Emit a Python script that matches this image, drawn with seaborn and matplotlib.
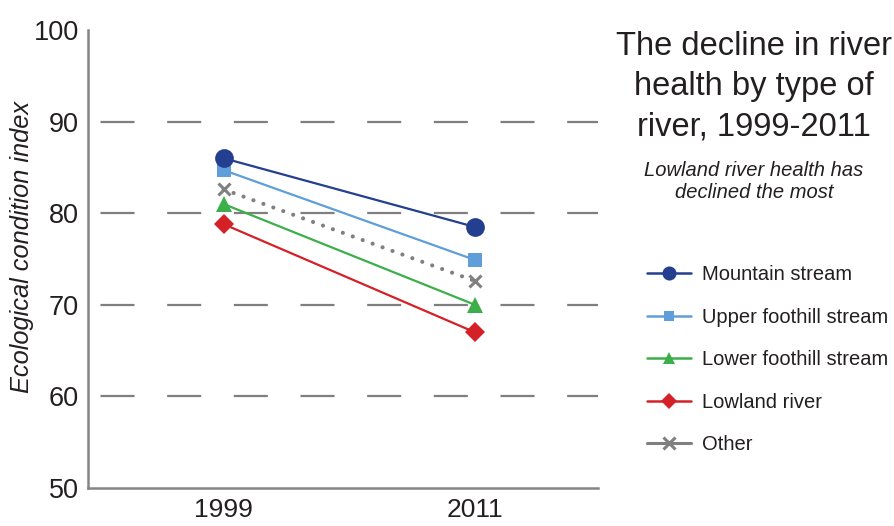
import matplotlib
matplotlib.use("Agg")
import matplotlib.pyplot as plt
from matplotlib.lines import Line2D
import seaborn as sns

# Ecological condition index by river type
years = ["1999", "2011"]
mountain_stream = [86.0, 78.5]
upper_foothill_stream = [84.7, 74.9]
lower_foothill_stream = [81.0, 70.0]
lowland_river = [78.8, 67.0]
other = [82.6, 72.6]

series_names = ["Mountain stream", "Upper foothill stream", "Lower foothill stream",
                "Lowland river", "Other"]
y_ticks = [50, 60, 70, 80, 90, 100]

sns.set_theme(style="white")
plt.rcParams["font.family"] = ["Liberation Sans", "DejaVu Sans"]
plt.rcParams["lines.scale_dashes"] = False

text_color = "#231f20"
axis_color = "#858585"

fig = plt.figure(figsize=(8.94, 5.26), dpi=100)
ax = fig.add_axes([88 / 894, 1 - 488 / 526, 510 / 894, 458 / 526])

styles = {
    "Mountain stream": dict(color="#243f8f", marker="o", markersize=13.5),
    "Upper foothill stream": dict(color="#5f9ed8", marker="s", markersize=10.5),
    "Lower foothill stream": dict(color="#3daf4a", marker="^", markersize=12),
    "Lowland river": dict(color="#d42128", marker="D", markersize=10.5),
    "Other": dict(color="#808080", marker="x", markersize=9),
}
values = {
    "Mountain stream": mountain_stream,
    "Upper foothill stream": upper_foothill_stream,
    "Lower foothill stream": lower_foothill_stream,
    "Lowland river": lowland_river,
    "Other": other,
}

# dashed horizontal guides
for v in y_ticks[1:-1]:
    ax.axhline(v, color="#7f7f7f", linewidth=1.6,
               linestyle=(39, (24.5, 23.5)), zorder=0)

for name in ["Other", "Lowland river", "Lower foothill stream",
             "Upper foothill stream", "Mountain stream"]:
    st = styles[name]
    if name == "Other":
        sns.lineplot(x=years, y=values[name], ax=ax, color=st["color"],
                     linewidth=3.0, linestyle=(0, (0.01, 7.6)),
                     dash_capstyle="round", marker=st["marker"],
                     markersize=st["markersize"], mew=2.2,
                     mec=st["color"], zorder=3)
    else:
        sns.lineplot(x=years, y=values[name], ax=ax, color=st["color"],
                     linewidth=1.6, marker=st["marker"],
                     markersize=st["markersize"], mew=0,
                     mec=st["color"], zorder=3)

ax.set_xlim(-0.54, 1.49)
ax.set_ylim(50, 100)
ax.set_yticks(y_ticks)
ax.set_xticks([0, 1])
ax.set_xticklabels(years)
ax.grid(False)

for side in ["top", "right"]:
    ax.spines[side].set_visible(False)
for side in ["left", "bottom"]:
    ax.spines[side].set_color(axis_color)
    ax.spines[side].set_linewidth(1.8)
ax.spines["left"].set_bounds(50, 100)

ax.tick_params(axis="y", direction="inout", length=9, width=1.6,
               color=axis_color, labelsize=19.5, labelcolor=text_color, pad=2)
ax.tick_params(axis="x", length=0, labelsize=19, labelcolor=text_color, pad=7)

ax.set_ylabel("Ecological condition index", fontsize=18.3, style="italic",
              color=text_color)
ax.yaxis.set_label_coords(-0.105, 0.527)
ax.set_xlabel("")

fig.text(754 / 894, 1 - 31 / 526,
         "The decline in river\nhealth by type of\nriver, 1999-2011",
         ha="center", va="top", fontsize=23.5, color=text_color, linespacing=1.38)
fig.text(754 / 894, 1 - 161 / 526,
         "Lowland river health has\ndeclined the most",
         ha="center", va="top", fontsize=14.5, style="italic",
         color=text_color, linespacing=1.2)

handles = []
for name in series_names:
    st = styles[name]
    if name == "Other":
        handles.append(Line2D([0], [0], color=st["color"], linewidth=2.2,
                              marker="x", markersize=8, mew=2.2))
    else:
        handles.append(Line2D([0], [0], color=st["color"], linewidth=1.8,
                              marker=st["marker"],
                              markersize=st["markersize"] * 0.75, mew=0))

fig.legend(handles, series_names, loc="upper left",
           bbox_to_anchor=(647 / 894, 1 - 265 / 526), frameon=False,
           fontsize=14.5, handlelength=2.2, handletextpad=0.55,
           labelspacing=1.17, borderpad=0, borderaxespad=0,
           labelcolor=text_color)

fig.savefig("out.png", dpi=100)
